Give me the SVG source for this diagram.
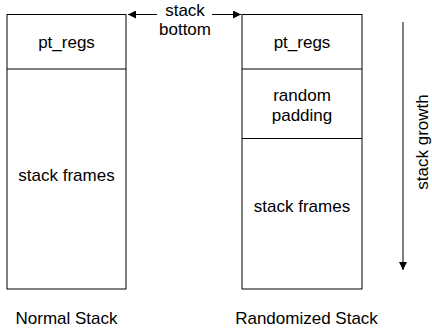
<svg xmlns="http://www.w3.org/2000/svg" width="432" height="330" viewBox="0 0 432 330">
<defs>
<style>
.box{fill:#fff;stroke:#000;stroke-width:1}
.t{font-family:"Liberation Sans",Arial,Helvetica,sans-serif;font-size:17px;fill:#000;text-anchor:middle}
.ln{stroke:#000;stroke-width:1;fill:none}
</style>
<marker id="ah" viewBox="0 0 10 10" refX="10" refY="5" markerWidth="10" markerHeight="8" markerUnits="userSpaceOnUse" orient="auto">
<path d="M0,0 L10,5 L0,10 Z" fill="#000"/>
</marker>
</defs>
<rect width="432" height="330" fill="#fff"/>
<g id="normal-stack">
<rect class="box" x="7" y="14.5" width="119" height="274.5"/>
<line class="ln" x1="7" y1="69" x2="126" y2="69"/>
<text class="t" x="66.5" y="47.5">pt_regs</text>
<text class="t" x="66.5" y="181">stack frames</text>
</g>
<g id="randomized-stack">
<rect class="box" x="242" y="14.5" width="120" height="274.5"/>
<line class="ln" x1="242" y1="69" x2="362" y2="69"/>
<line class="ln" x1="242" y1="138.5" x2="362" y2="138.5"/>
<text class="t" x="302" y="47.5">pt_regs</text>
<text class="t" x="302" y="101">random</text>
<text class="t" x="302" y="120.5">padding</text>
<text class="t" x="302" y="212">stack frames</text>
</g>
<g id="labels">
<text class="t" x="185" y="16">stack</text>
<text class="t" x="185" y="35">bottom</text>
<text class="t" x="66.5" y="324">Normal Stack</text>
<text class="t" x="306.5" y="324">Randomized Stack</text>
<text class="t" transform="translate(428,142) rotate(-90)">stack growth</text>
</g>
<g id="connectors">
<line class="ln" x1="157" y1="14.5" x2="128" y2="14.5" marker-end="url(#ah)"/>
<line class="ln" x1="212" y1="14.5" x2="241" y2="14.5" marker-end="url(#ah)"/>
<line class="ln" x1="403" y1="22" x2="403" y2="270" marker-end="url(#ah)"/>
</g>
</svg>
